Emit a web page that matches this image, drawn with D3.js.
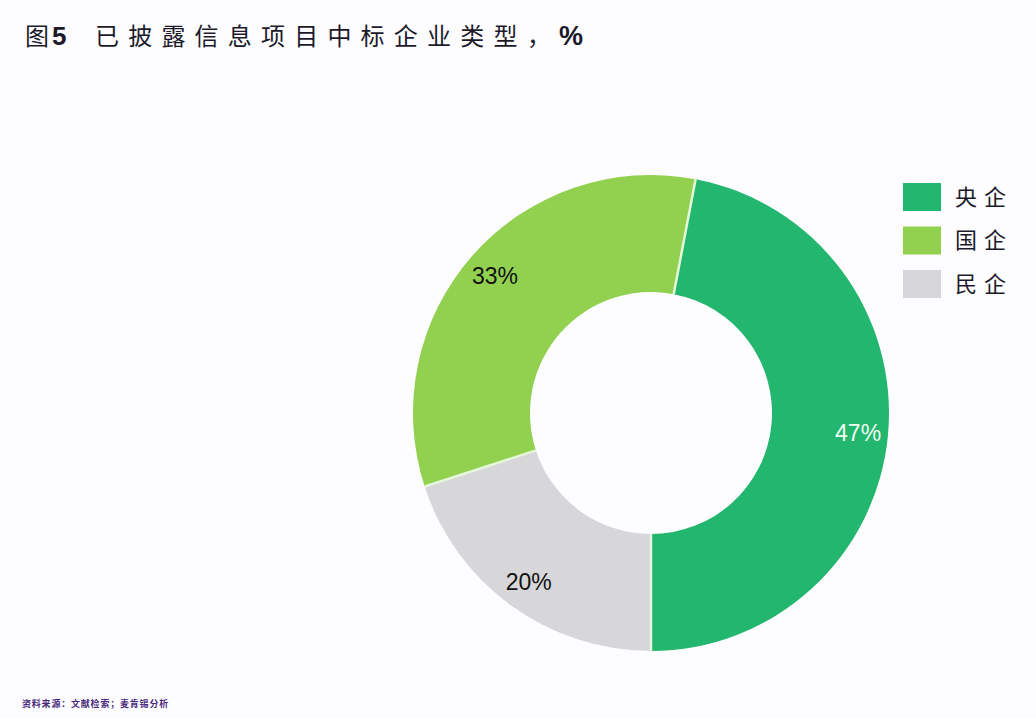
<!DOCTYPE html>
<html>
<head>
<meta charset="utf-8">
<script src="https://cdn.jsdelivr.net/npm/d3@7"></script>
<style>
  body { margin: 0; background: #fdfdff; }
  svg { display: block; }
</style>
</head>
<body>
<div id="chart"></div>
<script>
// 数据
var categories = ["央企", "国企", "民企"];
var shares = [47, 33, 20];
var labels = ["47%", "33%", "20%"];
var colors = ["#22b66e", "#92d050", "#d7d7d9"];
var labelColors = ["#f2fff2", "#111111", "#111111"];

var width = 1036, height = 718;
var cx = 651, cy = 413;
var outerR = 238, innerR = 121, labelR = 208;

var svg = d3.select("#chart").append("svg")
  .attr("width", width)
  .attr("height", height);

svg.append("rect")
  .attr("width", width)
  .attr("height", height)
  .attr("fill", "#fdfdff");

// 标题
var title = svg.append("text")
  .attr("x", 25)
  .attr("y", 45)
  .attr("font-family", "'Noto Sans CJK SC', sans-serif")
  .attr("font-size", 24)
  .attr("fill", "#1c1a2a");
title.append("tspan").text("图");
title.append("tspan")
  .attr("font-family", "'Liberation Sans', Arial, sans-serif")
  .attr("font-weight", "bold")
  .attr("font-size", 26)
  .attr("dx", 3)
  .text("5");
title.append("tspan")
  .attr("x", 95)
  .attr("letter-spacing", 9.2)
  .text("已披露信息项目中标企业类型");
title.append("tspan")
  .attr("x", 527)
  .text("，");
title.append("tspan")
  .attr("x", 559)
  .attr("font-family", "'Liberation Sans', Arial, sans-serif")
  .attr("font-weight", "bold")
  .attr("font-size", 27)
  .text("%");

// 环形图（从正下方开始逆时针）
var pie = d3.pie()
  .sort(null)
  .value(function(d) { return d; })
  .startAngle(Math.PI)
  .endAngle(-Math.PI);

var arc = d3.arc()
  .innerRadius(innerR)
  .outerRadius(outerR);

var labelArc = d3.arc()
  .innerRadius(labelR)
  .outerRadius(labelR);

var g = svg.append("g")
  .attr("transform", "translate(" + cx + "," + cy + ")");

var arcs = pie(shares);

g.selectAll("path")
  .data(arcs)
  .enter().append("path")
    .attr("d", arc)
    .attr("fill", function(d, i) { return colors[i]; });

// 扇区分隔线
g.selectAll("line")
  .data(arcs)
  .enter().append("line")
    .attr("x1", function(d) { return innerR * Math.sin(d.startAngle); })
    .attr("y1", function(d) { return -innerR * Math.cos(d.startAngle); })
    .attr("x2", function(d) { return outerR * Math.sin(d.startAngle); })
    .attr("y2", function(d) { return -outerR * Math.cos(d.startAngle); })
    .attr("stroke", "#e4f7d8")
    .attr("stroke-width", 2.5);

g.selectAll("text")
  .data(arcs)
  .enter().append("text")
    .attr("transform", function(d) { return "translate(" + labelArc.centroid(d) + ")"; })
    .attr("text-anchor", "middle")
    .attr("dy", "0.36em")
    .attr("font-family", "'Liberation Sans', Arial, sans-serif")
    .attr("font-size", 23)
    .attr("fill", function(d, i) { return labelColors[i]; })
    .text(function(d, i) { return labels[i]; });

// 图例
var legend = svg.append("g")
  .attr("transform", "translate(903,183)");

var item = legend.selectAll("g")
  .data(categories)
  .enter().append("g")
    .attr("transform", function(d, i) { return "translate(0," + (i * 43.5) + ")"; });

item.append("rect")
  .attr("width", 38)
  .attr("height", 28)
  .attr("fill", function(d, i) { return colors[i]; });

item.append("text")
  .attr("x", 52)
  .attr("y", 14)
  .attr("dy", "0.36em")
  .attr("font-family", "'Noto Sans CJK SC', sans-serif")
  .attr("font-size", 22)
  .attr("letter-spacing", 7)
  .attr("fill", "#1c1a2a")
  .text(function(d) { return d; });

// 资料来源
svg.append("text")
  .attr("x", 22)
  .attr("y", 707)
  .attr("font-family", "'Noto Sans CJK SC', sans-serif")
  .attr("font-size", 9)
  .attr("font-weight", "bold")
  .attr("letter-spacing", 0.8)
  .attr("fill", "#4a2a7a")
  .text("资料来源：文献检索；麦肯锡分析");
</script>
</body>
</html>
